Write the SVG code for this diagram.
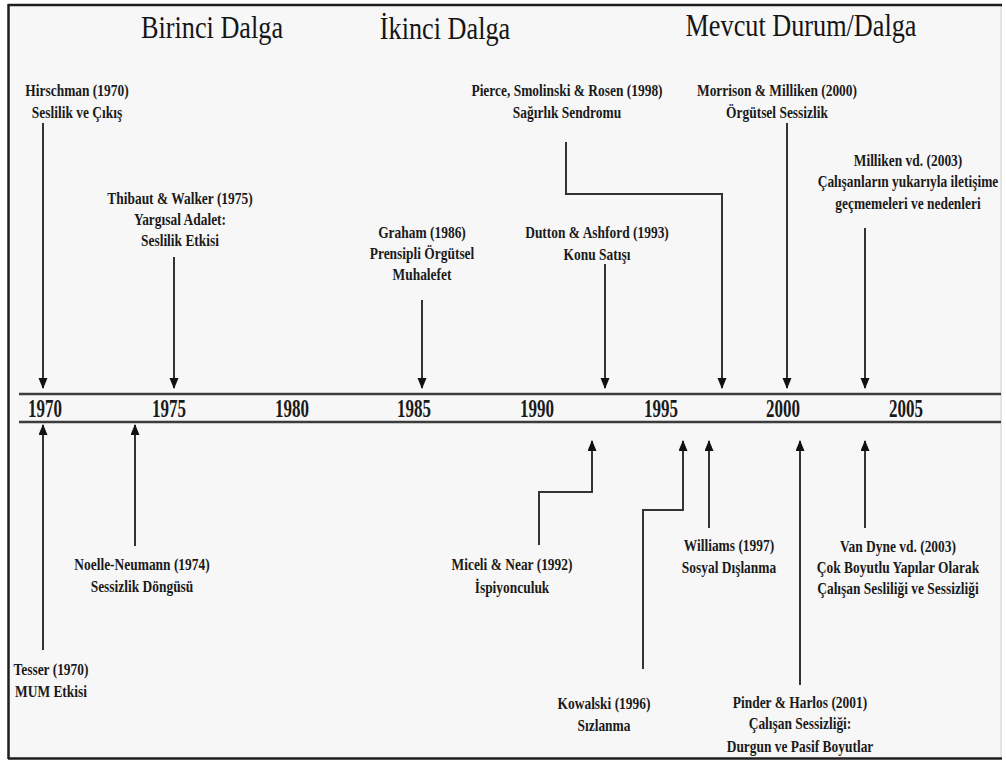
<svg xmlns="http://www.w3.org/2000/svg" width="1006" height="760" viewBox="0 0 1006 760">
  <style>
    .title { font-family: 'Liberation Serif', Tinos, 'Times New Roman', 'DejaVu Serif', serif; font-size: 32px; fill: #151515; text-anchor: middle; }
    .lbl { font-family: 'Liberation Serif', Tinos, 'Times New Roman', 'DejaVu Serif', serif; font-size: 16px; font-weight: bold; fill: #1a1a1a; text-anchor: middle; }
    .yr { font-family: 'Liberation Serif', Tinos, 'Times New Roman', 'DejaVu Serif', serif; font-size: 25px; font-weight: bold; fill: #1a1a1a; text-anchor: middle; }
    .axis { stroke: #3c3c3c; stroke-width: 2.5; fill: none; }
    .link { stroke: #333; stroke-width: 2; fill: none; marker-end: url(#head); }
  </style>
  <defs>
    <marker id="head" markerUnits="userSpaceOnUse" markerWidth="11" markerHeight="10" refX="10" refY="4.5" orient="auto">
      <path d="M0,0 L11,4.5 L0,9 z" fill="#111"/>
    </marker>
  </defs>

  <!-- page and frame -->
  <rect x="0" y="0" width="1006" height="760" fill="#ffffff"/>
  <rect x="9" y="5" width="993" height="753" fill="#f7f7f7"/>
  <line x1="1001" y1="5" x2="1001" y2="758" stroke="#e3e3e3" stroke-width="2"/>
  <line x1="8" y1="5" x2="1002" y2="5" stroke="#1e1e1e" stroke-width="2.5"/>
  <line x1="8" y1="758.5" x2="1002" y2="758.5" stroke="#1e1e1e" stroke-width="2.5"/>
  <line x1="8.5" y1="4" x2="8.5" y2="759" stroke="#1e1e1e" stroke-width="2.5"/>

  <!-- wave headings -->
  <g id="wave-1" transform="translate(212,0) scale(0.82,1)"><text class="title" x="0" y="38" font-family="Liberation Serif">Birinci Dalga</text></g>
  <g id="wave-2" transform="translate(445,0) scale(0.82,1)"><text class="title" x="0" y="39">İkinci Dalga</text></g>
  <g id="wave-3" transform="translate(801,0) scale(0.82,1)"><text class="title" x="0" y="36">Mevcut Durum/Dalga</text></g>

  <!-- time axis -->
  <g id="axis">
    <line class="axis" x1="19" y1="394" x2="1001" y2="394"/>
    <line class="axis" x1="19" y1="422" x2="1001" y2="422"/>
    <g transform="translate(45,0) scale(0.68,1)"><text class="yr" x="0" y="417">1970</text></g>
    <g transform="translate(169,0) scale(0.68,1)"><text class="yr" x="0" y="417">1975</text></g>
    <g transform="translate(292,0) scale(0.68,1)"><text class="yr" x="0" y="417">1980</text></g>
    <g transform="translate(414,0) scale(0.68,1)"><text class="yr" x="0" y="417">1985</text></g>
    <g transform="translate(537,0) scale(0.68,1)"><text class="yr" x="0" y="417">1990</text></g>
    <g transform="translate(661,0) scale(0.68,1)"><text class="yr" x="0" y="417">1995</text></g>
    <g transform="translate(783,0) scale(0.68,1)"><text class="yr" x="0" y="417">2000</text></g>
    <g transform="translate(906,0) scale(0.68,1)"><text class="yr" x="0" y="417">2005</text></g>
  </g>

  <!-- connectors -->
  <g id="connectors">
    <path class="link" d="M43,123 V388"/>
    <path class="link" d="M174,257 V388"/>
    <path class="link" d="M422,300 V388"/>
    <path class="link" d="M605,264 V388"/>
    <path class="link" d="M566,142 V194 H722 V388"/>
    <path class="link" d="M787,123 V388"/>
    <path class="link" d="M865,228 V388"/>

    <path class="link" d="M43,650 V425"/>
    <path class="link" d="M135,546 V425"/>
    <path class="link" d="M539,545 V492 H592 V441"/>
    <path class="link" d="M643,669 V510 H683 V441"/>
    <path class="link" d="M709,528 V441"/>
    <path class="link" d="M800,685 V441"/>
    <path class="link" d="M865,528 V441"/>
  </g>

  <!-- studies above the axis -->
  <g id="hirschman" transform="translate(77,0) scale(0.84,1)">
    <text class="lbl" x="0" y="96">Hirschman (1970)</text>
    <text class="lbl" x="0" y="118">Seslilik ve Çıkış</text>
  </g>
  <g id="thibaut-walker" transform="translate(180,0) scale(0.84,1)">
    <text class="lbl" x="0" y="204">Thibaut &amp; Walker (1975)</text>
    <text class="lbl" x="0" y="225">Yargısal Adalet:</text>
    <text class="lbl" x="0" y="246">Seslilik Etkisi</text>
  </g>
  <g id="graham" transform="translate(422,0) scale(0.84,1)">
    <text class="lbl" x="0" y="238">Graham (1986)</text>
    <text class="lbl" x="0" y="259">Prensipli Örgütsel</text>
    <text class="lbl" x="0" y="280">Muhalefet</text>
  </g>
  <g id="dutton-ashford" transform="translate(597,0) scale(0.84,1)">
    <text class="lbl" x="0" y="238">Dutton &amp; Ashford (1993)</text>
    <text class="lbl" x="0" y="260">Konu Satışı</text>
  </g>
  <g id="pierce" transform="translate(567,0) scale(0.84,1)">
    <text class="lbl" x="0" y="96">Pierce, Smolinski &amp; Rosen (1998)</text>
    <text class="lbl" x="0" y="118">Sağırlık Sendromu</text>
  </g>
  <g id="morrison-milliken" transform="translate(777,0) scale(0.84,1)">
    <text class="lbl" x="0" y="96">Morrison &amp; Milliken (2000)</text>
    <text class="lbl" x="0" y="118">Örgütsel Sessizlik</text>
  </g>
  <g id="milliken" transform="translate(908,0) scale(0.84,1)">
    <text class="lbl" x="0" y="166">Milliken vd. (2003)</text>
    <text class="lbl" x="0" y="187">Çalışanların yukarıyla iletişime</text>
    <text class="lbl" x="0" y="209">geçmemeleri ve nedenleri</text>
  </g>

  <!-- studies below the axis -->
  <g id="tesser" transform="translate(51,0) scale(0.84,1)">
    <text class="lbl" x="0" y="675">Tesser (1970)</text>
    <text class="lbl" x="0" y="697">MUM Etkisi</text>
  </g>
  <g id="noelle-neumann" transform="translate(142,0) scale(0.84,1)">
    <text class="lbl" x="0" y="570">Noelle-Neumann (1974)</text>
    <text class="lbl" x="0" y="592">Sessizlik Döngüsü</text>
  </g>
  <g id="miceli-near" transform="translate(512,0) scale(0.84,1)">
    <text class="lbl" x="0" y="570">Miceli &amp; Near (1992)</text>
    <text class="lbl" x="0" y="593">İspiyonculuk</text>
  </g>
  <g id="kowalski" transform="translate(604,0) scale(0.84,1)">
    <text class="lbl" x="0" y="709">Kowalski (1996)</text>
    <text class="lbl" x="0" y="731">Sızlanma</text>
  </g>
  <g id="williams" transform="translate(729,0) scale(0.84,1)">
    <text class="lbl" x="0" y="551">Williams (1997)</text>
    <text class="lbl" x="0" y="573">Sosyal Dışlanma</text>
  </g>
  <g id="pinder-harlos" transform="translate(800,0) scale(0.84,1)">
    <text class="lbl" x="0" y="708">Pinder &amp; Harlos (2001)</text>
    <text class="lbl" x="0" y="729">Çalışan Sessizliği:</text>
    <text class="lbl" x="0" y="752">Durgun ve Pasif Boyutlar</text>
  </g>
  <g id="van-dyne" transform="translate(898,0) scale(0.84,1)">
    <text class="lbl" x="0" y="552">Van Dyne vd. (2003)</text>
    <text class="lbl" x="0" y="573">Çok Boyutlu Yapılar Olarak</text>
    <text class="lbl" x="0" y="594">Çalışan Sesliliği ve Sessizliği</text>
  </g>
</svg>
